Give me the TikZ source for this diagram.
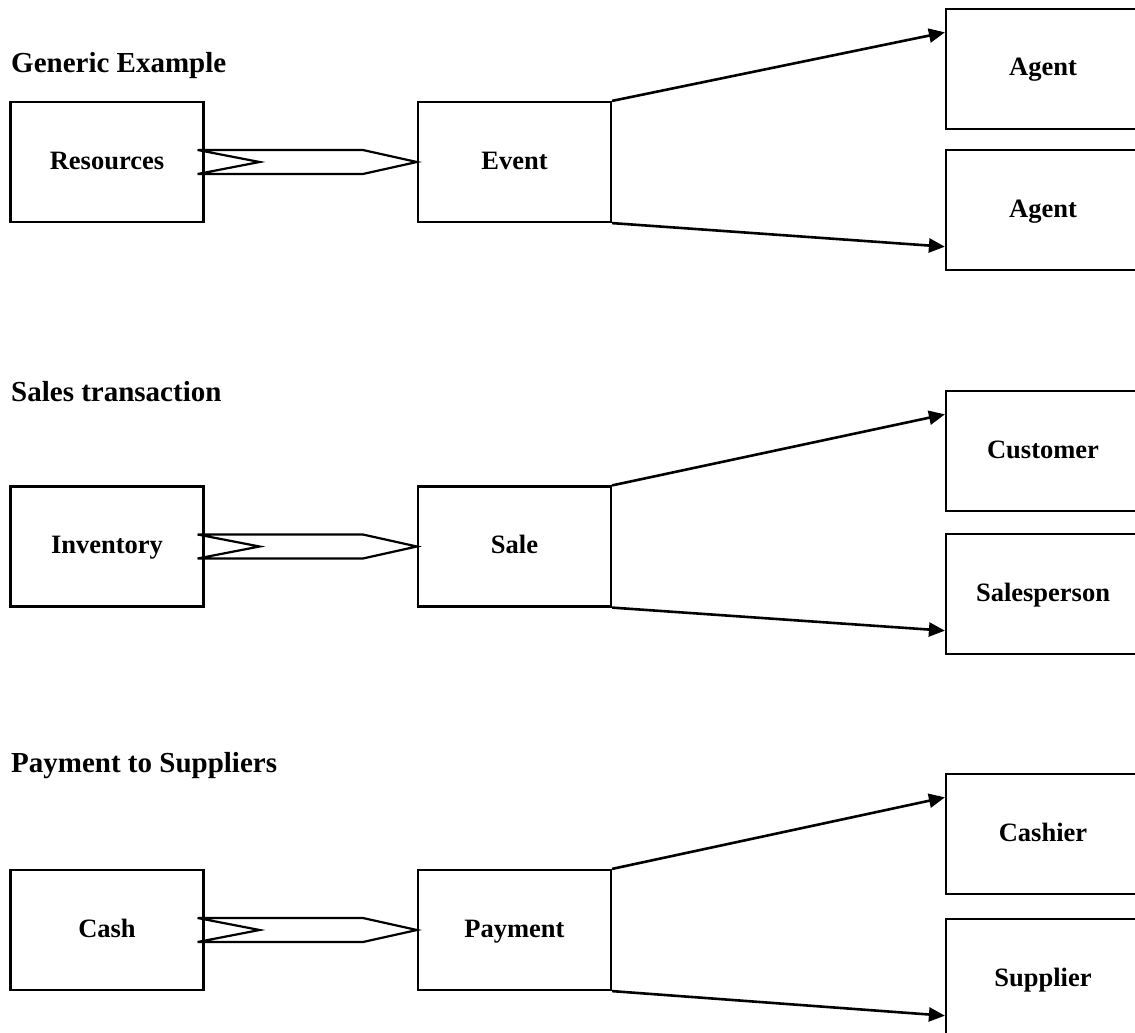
\documentclass[tikz,border=0pt]{standalone}
\usepackage{fontspec}
\setmainfont{Liberation Serif}
\usetikzlibrary{arrows.meta,calc}
\tikzset{
 box/.style={draw, line width=2.2pt, minimum width=193pt, minimum height=120pt, inner sep=0pt,
   font=\fontsize{26.5}{30}\selectfont\bfseries, text height=18.5pt, text depth=4.5pt},
 rbox/.style={box, minimum width=194pt},
 ttl/.style={anchor=base west, inner sep=0pt, font=\fontsize{29}{34}\selectfont\bfseries},
 link/.style={line width=2.6pt, -{Triangle[length=16pt,width=14pt]}},
 flow/.style={line width=2.2pt, line join=miter}
}
\begin{document}
\begin{tikzpicture}[x=1pt,y=-1pt]
\path[use as bounding box, clip] (0,0) rectangle (1135,1033);
\fill[white] (0,0) rectangle (1135,1033);

% Section 1
\node[ttl] (t1) at (11,73) {Generic Example};
\node[box] (res) at (107,162) {Resources};
\node[box] (ev) at (514.5,162) {Event};
\node[rbox] (ag1) at (1043,69) {Agent};
\node[rbox] (ag2) at (1043,210) {Agent};
\draw[flow] ($(res.east)+(-7,-12)$) -- ($(res.east)+(55,0)$) -- ($(res.east)+(-7,12)$)
  -- ($(ev.west)+(-54,12)$) -- (ev.west) -- ($(ev.west)+(-54,-12)$) -- cycle;
\draw[link] (ev.north east) -- ($(ag1.south west)!0.8!(ag1.north west)$);
\draw[link] (ev.south east) -- ($(ag2.south west)!0.2!(ag2.north west)$);

% Section 2
\node[ttl] (t2) at (11,401) {Sales transaction};
\node[box] (inv) at (107,546.5) {Inventory};
\node[box] (sale) at (514.5,546.5) {Sale};
\node[rbox] (cust) at (1043,451) {Customer};
\node[rbox] (sp) at (1043,594) {Salesperson};
\draw[flow] ($(inv.east)+(-7,-12)$) -- ($(inv.east)+(55,0)$) -- ($(inv.east)+(-7,12)$)
  -- ($(sale.west)+(-54,12)$) -- (sale.west) -- ($(sale.west)+(-54,-12)$) -- cycle;
\draw[link] (sale.north east) -- ($(cust.south west)!0.8!(cust.north west)$);
\draw[link] (sale.south east) -- ($(sp.south west)!0.2!(sp.north west)$);

% Section 3
\node[ttl] (t3) at (11,772) {Payment to Suppliers};
\node[box] (cash) at (107,930) {Cash};
\node[box] (pay) at (514.5,930) {Payment};
\node[rbox] (cashier) at (1043,834) {Cashier};
\node[rbox] (supp) at (1043,979) {Supplier};
\draw[flow] ($(cash.east)+(-7,-12)$) -- ($(cash.east)+(55,0)$) -- ($(cash.east)+(-7,12)$)
  -- ($(pay.west)+(-54,12)$) -- (pay.west) -- ($(pay.west)+(-54,-12)$) -- cycle;
\draw[link] (pay.north east) -- ($(cashier.south west)!0.8!(cashier.north west)$);
\draw[link] (pay.south east) -- ($(supp.south west)!0.2!(supp.north west)$);
\end{tikzpicture}
\end{document}
